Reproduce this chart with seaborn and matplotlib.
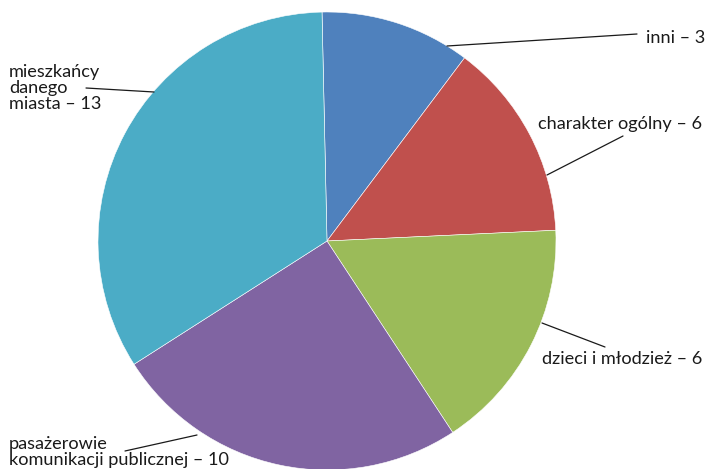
import matplotlib
matplotlib.use("Agg")
import matplotlib.pyplot as plt
import seaborn as sns

# data
categories = ["inni", "charakter ogólny", "dzieci i młodzież",
              "pasażerowie\nkomunikacji publicznej", "mieszkańcy\ndanego\nmiasta"]
counts = [3, 6, 6, 10, 13]
shares = [10.6, 14.0, 16.5, 25.2, 33.7]  # slice sizes as drawn
colors = ["#4F81BD", "#C0504D", "#9BBB59", "#8064A2", "#4BACC6"]

sns.set_theme(style="white")
plt.rcParams["font.family"] = ["Lato", "DejaVu Sans"]

W, H = 708, 469
fig = plt.figure(figsize=(W / 100, H / 100), dpi=100)
ax = fig.add_axes([0, 0, 1, 1])

cx, cy, r = 327, H - 241, 229
ax.pie(shares, colors=colors, startangle=91.25, counterclock=False,
       center=(cx, cy), radius=r, frame=True,
       wedgeprops=dict(linewidth=0.4, edgecolor="white"))
ax.set_xlim(0, W)
ax.set_ylim(0, H)
ax.set_aspect("equal")
ax.axis("off")

labels = [f"{c} – {v}" for c, v in zip(categories, counts)]
fs = 13.1
# (text x, text y, ha, line start, line end)
specs = [
    (646, H - 38, "left", (447, H - 46), (637, H - 34)),
    (538, H - 124, "left", (547, H - 175), (623, H - 136)),
    (542, H - 359, "left", (542, H - 323), (605, H - 347)),
    (9, H - 452, "left", (197, H - 435), (125, H - 451)),
    (9, H - 88, "left", (154, H - 92), (86, H - 88)),
]
for lab, (tx, ty, ha, p0, p1) in zip(labels, specs):
    ax.text(tx, ty, lab, ha=ha, va="center", fontsize=fs, color="#1a1a1a",
            linespacing=0.97)
    ax.plot([p0[0], p1[0]], [p0[1], p1[1]], color="#1a1a1a", lw=0.9)

fig.savefig("out.png", dpi=100)
